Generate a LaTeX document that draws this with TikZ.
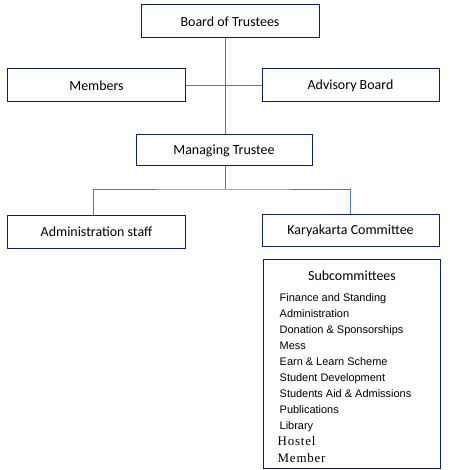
\documentclass[tikz,border=0pt]{standalone}
\usepackage{fontspec}
\setmainfont{Carlito}
\newfontfamily\listfont{Liberation Sans}
\newfontfamily\seriffont[LetterSpace=6]{Liberation Serif}
\definecolor{boxline}{HTML}{0D1F5C}
\definecolor{conn}{HTML}{4A7EBB}
\begin{document}
\begin{tikzpicture}[x=1bp,y=-1bp,
  orgbox/.style={draw=boxline,line width=1bp,minimum width=177bp,minimum height=33bp,inner sep=0pt,font=\fontsize{14}{16}\selectfont},
  link/.style={draw=conn,line width=1bp},
  item/.style={anchor=base west,inner sep=0pt,font=\listfont\fontsize{11}{13}\selectfont},
  sitem/.style={anchor=base west,inner sep=0pt,font=\seriffont\fontsize{13}{15}\selectfont}]
\useasboundingbox (0,0) rectangle (450,470);
\node[orgbox,minimum width=178bp] (bot) at (230,21.5) {Board of Trustees};
\node[orgbox] (mem) at (96.5,85.5) {Members};
\node[orgbox] (adv) at (350.5,85.5) {Advisory Board};
\node[orgbox,minimum width=176bp,minimum height=31bp] (mt) at (224,150.5) {Managing Trustee};
\node[orgbox,minimum height=32bp] (adm) at (96.5,232) {Administration staff};
\node[orgbox,minimum height=31bp] (kar) at (350.5,230.5) {Karyakarta Committee};
\node[draw=boxline,line width=1bp,minimum width=177bp,minimum height=208bp,inner sep=0pt] (sub) at (352,364) {};
\coordinate (hub) at (225.5,85.5);
\coordinate (split) at (225.5,190);
\draw[link] (bot.south -| hub) -- (mt.north -| hub);
\draw[link] (mem.east) -- (adv.west);
\draw[link] (mt.south -| split) -- (split);
\draw[link] (adm.north -| 93,0) |- (split) -| (kar.north -| 350,0);
\node[font=\fontsize{14}{16}\selectfont] (subt) at (352,276) {Subcommittees};
\node[item] (i1) at (279.5,301) {Finance and Standing};
\node[item] (i2) at (279.5,317) {Administration};
\node[item] (i3) at (279.5,333) {Donation \& Sponsorships};
\node[item] (i4) at (279.5,349) {Mess};
\node[item] (i5) at (279.5,365) {Earn \& Learn Scheme};
\node[item] (i6) at (279.5,381) {Student Development};
\node[item] (i7) at (279.5,397) {Students Aid \& Admissions};
\node[item] (i8) at (279.5,413) {Publications};
\node[item] (i9) at (279.5,429) {Library};
\node[sitem] (i10) at (277.5,445) {Hostel};
\node[sitem] (i11) at (277.5,462) {Member};
\end{tikzpicture}
\end{document}
